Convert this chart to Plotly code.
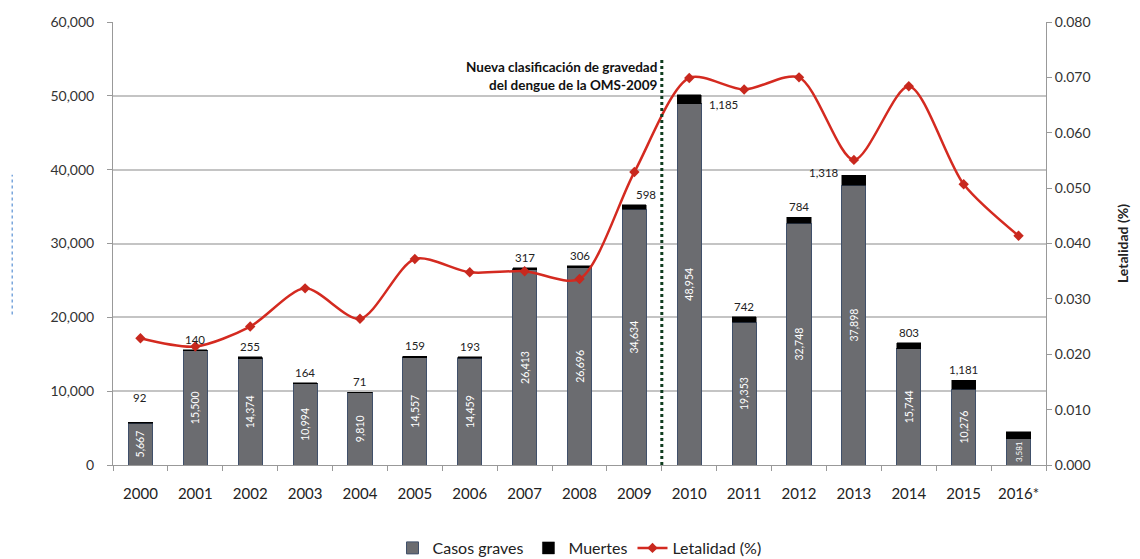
import plotly.graph_objects as go

years = ["2000", "2001", "2002", "2003", "2004", "2005", "2006", "2007", "2008",
         "2009", "2010", "2011", "2012", "2013", "2014", "2015", "2016*"]
casos_graves = [5667, 15500, 14374, 10994, 9810, 14557, 14459, 26413, 26696,
                34634, 48954, 19353, 32748, 37898, 15744, 10276, 3581]
muertes = [92, 140, 255, 164, 71, 159, 193, 317, 306,
           598, 1185, 742, 784, 1318, 803, 1181, 900]
muertes_labels = ["92", "140", "255", "164", "71", "159", "193", "317", "306",
                  "598", "1,185", "742", "784", "1,318", "803", "1,181", ""]
letalidad = [0.0229, 0.0214, 0.0250, 0.0319, 0.0264, 0.0372, 0.0348, 0.0350, 0.0336,
             0.0529, 0.0699, 0.0678, 0.0700, 0.0551, 0.0684, 0.0507, 0.0414]

xpos = list(range(len(years)))
boundaries = [i - 0.5 for i in range(len(years) + 1)]

# label offsets (style only)
label_style = {0: dict(yshift=14), 9: dict(xshift=12), 10: dict(xshift=34, yshift=-20),
               13: dict(xshift=-30, yshift=-8)}

FONT = "Lato, Open Sans, sans-serif"

fig = go.Figure()
fig.add_trace(go.Bar(
    x=xpos, y=casos_graves, name="Casos graves",
    marker=dict(color="#6b6c70", line=dict(color="#40506a", width=1)),
    text=[f"{v:,}" for v in casos_graves], textposition="inside",
    insidetextanchor="middle", textangle=-90,
    textfont=dict(color="white", size=10.5, family=FONT),
    width=0.44,
))
fig.add_trace(go.Bar(
    x=xpos, y=muertes, name="Muertes",
    marker=dict(color="#000000", line=dict(color="#000000", width=0.5)),
    width=0.44,
))
fig.add_trace(go.Scatter(
    x=xpos, y=letalidad, name="Letalidad (%)", yaxis="y2",
    mode="lines+markers", line=dict(color="#d42a20", width=2.5, shape="spline", smoothing=0.8),
    marker=dict(symbol="diamond", size=8, color="#c8281e"),
))

for i, (c, m, lab) in enumerate(zip(casos_graves, muertes, muertes_labels)):
    if not lab:
        continue
    st = label_style.get(i, {})
    fig.add_annotation(x=xpos[i], y=c + m, xref="x", yref="y", text=lab, showarrow=False,
                       yanchor="bottom", xshift=st.get("xshift", 0),
                       yshift=2 + st.get("yshift", 0),
                       font=dict(size=11.5, color="#222", family=FONT))

fig.add_shape(type="line", xref="x", yref="paper", x0=9.5, x1=9.5, y0=0, y1=0.92,
              line=dict(color="#0f3d1f", width=3, dash="dot"))
fig.add_annotation(x=9.5, y=0.92, xref="x", yref="paper", xanchor="right", yanchor="top",
                   xshift=-2, align="right", showarrow=False,
                   text="<b>Nueva clasificación de gravedad<br>del dengue de la OMS-2009</b>",
                   font=dict(size=13.5, color="#111", family=FONT))

# faint dotted artefact at the left edge of the reference
fig.add_shape(type="line", xref="paper", yref="paper", x0=-0.108, x1=-0.108, y0=0.34, y1=0.655,
              line=dict(color="#7aa6dc", width=1.5, dash="dot"))

fig.update_layout(
    width=1132, height=551,
    margin=dict(l=105, r=94, t=14, b=94),
    paper_bgcolor="white", plot_bgcolor="white",
    barmode="stack",
    font=dict(family=FONT, color="#333"),
    showlegend=True,
    legend=dict(orientation="h", x=0.5, xanchor="center", yref="container",
                y=0.02, yanchor="middle",
                font=dict(size=16, color="#222", family=FONT), traceorder="normal"),
    xaxis=dict(range=[-0.5, len(years) - 0.5], tickmode="array", tickvals=xpos,
               ticktext=years, ticks="", showline=True, linecolor="#999", linewidth=1,
               tickfont=dict(size=15, color="#222"), showgrid=False, zeroline=False,
               automargin=False, ticklabelstandoff=15,
               minor=dict(tickmode="array", tickvals=boundaries, ticks="outside",
                          ticklen=5, tickcolor="#999", showgrid=False)),
    yaxis=dict(range=[0, 60000], dtick=10000, tickformat=",", showgrid=True,
               gridcolor="#c4c4c4", gridwidth=1.5, showline=True, linecolor="#999",
               ticks="outside", ticklen=5, tickcolor="#999", automargin=False,
               ticklabelstandoff=10,
               tickfont=dict(size=14, color="#333"), zeroline=False),
    yaxis2=dict(range=[0, 0.080], dtick=0.010, tickformat=".3f", overlaying="y",
                side="right", showgrid=False, showline=True, linecolor="#999",
                ticks="outside", ticklen=5, tickcolor="#999", automargin=False,
                tickfont=dict(size=14, color="#333"), zeroline=False,
                title=dict(text="<b>Letalidad (%)</b>", font=dict(size=14, color="#222"),
                           standoff=28)),
)

fig.write_html("out.html")
